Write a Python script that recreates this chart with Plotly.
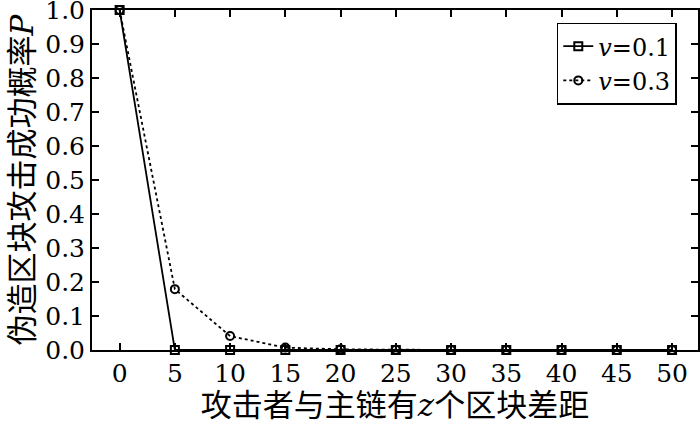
import plotly.graph_objects as go

z_gap = [0, 5, 10, 15, 20, 25, 30, 35, 40, 45, 50]
p_v01 = [1.0, 0.0, 0.0, 0.0, 0.0, 0.0, 0.0, 0.0, 0.0, 0.0, 0.0]
p_v03 = [1.0, 0.179, 0.041, 0.007, 0.002, 0.0005, 0.0001, 0.0, 0.0, 0.0, 0.0]
x_ticks = [0, 5, 10, 15, 20, 25, 30, 35, 40, 45, 50]
y_ticks = [0.0, 0.1, 0.2, 0.3, 0.4, 0.5, 0.6, 0.7, 0.8, 0.9, 1.0]

serif = "DejaVu Serif, Noto Sans CJK SC"

fig = go.Figure()
fig.add_trace(go.Scatter(
    x=z_gap, y=p_v01, mode="lines+markers", name="<i>v</i>=0.1",
    line=dict(color="black", width=1.8),
    marker=dict(symbol="square-open", size=8, color="black", line=dict(width=2)),
    cliponaxis=False,
))
fig.add_trace(go.Scatter(
    x=z_gap, y=p_v03, mode="lines+markers", name="<i>v</i>=0.3",
    line=dict(color="black", width=1.8, dash="dot"),
    marker=dict(symbol="circle-open", size=8, color="black", line=dict(width=2)),
    cliponaxis=False,
))

axis_common = dict(
    showline=True, linecolor="black", linewidth=2, mirror="ticks",
    ticks="inside", ticklen=7, tickwidth=1.5, tickcolor="black",
    showgrid=False, zeroline=False, automargin=False,
    ticklabeloverflow="allow",
    tickfont=dict(family=serif, size=25, color="black"),
)

fig.update_layout(
    width=700, height=423,
    margin=dict(l=92, r=2, t=10, b=73),
    paper_bgcolor="white", plot_bgcolor="white",
    font=dict(family=serif, color="black"),
    showlegend=True,
    legend=dict(
        x=0.965, y=0.963, xanchor="right", yanchor="top",
        bordercolor="black", borderwidth=1.5, bgcolor="white",
        font=dict(family=serif, size=24, color="black"),
        tracegroupgap=0, itemwidth=30,
    ),
    xaxis=dict(
        range=[-2.5, 52.35], tickvals=x_ticks, ticktext=[str(v) for v in x_ticks],
        title=dict(text="攻击者与主链有<i>z</i>个区块差距", font=dict(family=serif, size=31, color="black"), standoff=2),
        **axis_common,
    ),
    yaxis=dict(
        range=[0, 1.00001], tickvals=y_ticks, ticktext=[f"{v:.1f}" for v in y_ticks],
        title=dict(text="伪造区块攻击成功概率<i>P</i>", font=dict(family=serif, size=31, color="black"), standoff=2),
        **axis_common,
    ),
)

fig.write_html("out.html", config={"displayModeBar": False},
               post_script="document.body.style.margin='0';")
